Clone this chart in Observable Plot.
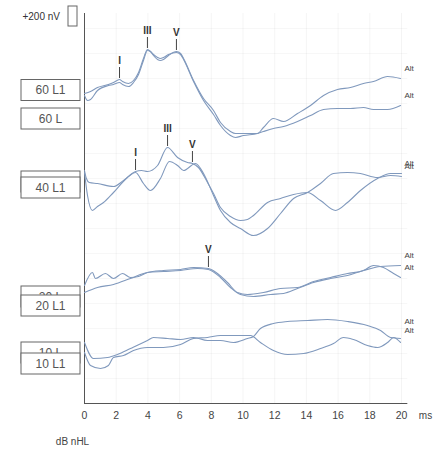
<!DOCTYPE html>
<html><head><meta charset="utf-8">
<script src="https://cdn.jsdelivr.net/npm/d3@7"></script>
<script src="https://cdn.jsdelivr.net/npm/@observablehq/plot@0.6"></script>
<style>body{margin:0;background:#fff} svg{display:block}</style>
</head><body><div id="chart"></div>
<script>
// ---- data (time in ms, amplitude in nV relative to each level's baseline) ----
const levels = ["60", "40", "20", "10"];
const levelOffsets = [3080, 2230, 1230, 580];   // baseline of each stimulus level, nV
const xTicks = [0, 2, 4, 6, 8, 10, 12, 14, 16, 18, 20];

const wave60L1 = [[0,20],[0.38,40],[0.82,80],[1.51,110],[1.83,130],[2.21,160],[2.40,140],[2.78,120],[3.09,150],[3.41,230],[3.72,370],[3.97,460],[4.16,440],[4.35,400],[4.61,360],[4.79,350],[4.98,360],[5.30,400],[5.80,440],[6.06,420],[6.25,370],[6.88,150],[7.51,-30],[8.14,-150],[8.58,-270],[9.21,-360],[9.53,-380],[10.03,-380],[10.91,-380],[11.29,-320],[11.92,-230],[12.56,-260],[13.44,-180],[14.26,-100],[15.08,0],[15.96,60],[16.78,80],[17.60,120],[18.23,140],[19.12,190],[19.94,170]];
const wave60L  = [[0,0],[0.19,-50],[0.38,-40],[0.82,50],[1.51,100],[1.83,110],[2.21,130],[2.40,110],[2.78,90],[3.09,130],[3.41,210],[3.72,350],[3.97,450],[4.16,440],[4.35,410],[4.61,380],[4.79,370],[4.98,380],[5.30,410],[5.80,430],[6.06,410],[6.25,360],[6.88,140],[7.51,-50],[8.14,-190],[8.58,-300],[9.21,-400],[9.53,-420],[10.03,-400],[10.91,-380],[11.29,-360],[11.92,-330],[12.56,-310],[13.44,-260],[14.26,-200],[15.08,-140],[15.96,-130],[16.78,-130],[17.60,-120],[18.23,-140],[19.12,-140],[19.94,-100]];
const wave40L1 = [[0,100],[0.12,20],[0.3,-20],[0.82,-30],[1.83,-60],[2.46,0],[3.22,90],[3.60,100],[3.97,90],[4.61,150],[5.24,330],[5.87,230],[6.50,180],[6.81,170],[7.19,130],[7.76,-20],[8.14,-130],[8.58,-270],[9.21,-360],[9.84,-400],[10.28,-390],[10.66,-350],[11.55,-220],[12.37,-180],[13.19,-140],[14.07,-120],[14.89,-200],[15.84,-300],[16.59,-220],[17.41,-100],[18.49,20],[19.31,70],[20,70]];
const wave40L  = [[0,80],[0.19,-150],[0.5,-300],[0.82,-260],[1.20,-220],[1.83,-120],[2.71,30],[3.22,80],[3.72,-30],[4.16,-100],[4.79,20],[5.36,190],[5.87,150],[6.25,100],[7.0,170],[7.51,70],[8.14,-150],[8.58,-300],[9.21,-420],[9.84,-480],[10.66,-550],[11.55,-480],[12.37,-330],[13.19,-180],[14.07,-120],[14.89,-30],[15.71,70],[16.59,80],[17.41,70],[18.49,30],[19.31,50],[20,40]];
const wave20L1 = [[0,-50],[0.5,80],[0.69,20],[1.32,70],[1.83,20],[2.40,70],[2.90,30],[3.41,40],[3.97,80],[4.98,100],[6.06,110],[6.88,130],[7.82,120],[8.39,70],[9.02,-20],[9.65,-120],[10.28,-140],[11.29,-120],[12.37,-80],[13.44,-70],[14.45,-10],[15.52,30],[16.59,70],[17.60,100],[18.23,150],[18.86,130],[19.50,70],[19.94,30]];
const wave20L  = [[0,-120],[0.82,-70],[1.83,-40],[2.90,20],[3.97,80],[4.98,90],[6.06,100],[7.13,120],[7.82,110],[8.58,30],[9.21,-70],[9.84,-140],[10.66,-160],[11.74,-140],[12.56,-130],[13.44,-80],[14.45,-20],[15.52,20],[16.59,50],[17.60,100],[18.68,140],[19.94,150]];
const wave10L1 = [[0,30],[0.57,-130],[1.45,-120],[2.08,-90],[2.90,-30],[3.97,50],[4.35,80],[5.24,70],[6.06,60],[6.88,80],[7.76,50],[8.58,50],[9.40,30],[10.28,70],[10.66,90],[11.10,170],[11.92,220],[12.81,240],[14.07,250],[15.33,260],[16.59,240],[17.85,200],[18.68,150],[19.31,80],[19.94,70]];
const wave10L  = [[0,-70],[0.38,-200],[1.01,-230],[1.51,-200],[1.83,-120],[2.46,-100],[3.09,-50],[3.97,-20],[4.98,-20],[6.06,10],[6.88,70],[7.76,80],[8.58,100],[9.65,100],[10.47,100],[11.10,30],[11.92,-50],[12.81,-90],[13.82,-80],[14.89,-30],[15.71,20],[16.34,80],[16.97,60],[17.85,0],[18.49,-20],[19.12,30],[19.50,80],[19.94,30]];

// peak markers: level index, wave name, latency (ms), amplitude (nV)
const peakLevel = [0, 0, 0, 1, 1, 1, 2];
const peakName  = ["I", "III", "V", "I", "III", "V", "V"];
const peakTime  = [2.21, 3.97, 5.80, 3.22, 5.24, 6.81, 7.82];
const peakAmp   = [160, 460, 440, 90, 330, 170, 120];

// recording labels on the left (level index, text, shift from baseline in nV)
const boxLevel = [0, 0, 1, 1, 2, 2, 3, 3];
const boxText  = ["60 L1", "60 L", "40 L", "40 L1", "20 L", "20 L1", "10 L", "10 L1"];
const boxShift = [50, -235, -15, -75, -165, -255, -75, -185];

// ---- build tables ----
const traces = [
  {id: "60 L1", level: 0, pts: wave60L1, dy: -10}, {id: "60 L", level: 0, pts: wave60L, dy: -10},
  {id: "40 L1", level: 1, pts: wave40L1, dy: -10}, {id: "40 L", level: 1, pts: wave40L, dy: -10},
  {id: "20 L1", level: 2, pts: wave20L1, dy: -10}, {id: "20 L", level: 2, pts: wave20L, dy: -10},
  {id: "10 L1", level: 3, pts: wave10L1, dy: -17}, {id: "10 L", level: 3, pts: wave10L, dy: -12}
];
const rows = traces.flatMap(tr => tr.pts.map(([t, a]) => ({id: tr.id, t, v: a + levelOffsets[tr.level]})));
const peaks = peakName.map((n, i) => ({name: n, t: peakTime[i], v: peakAmp[i] + levelOffsets[peakLevel[i]]}));

const ink = "#555";
const traceColor = "#8099bd";

const altMarks = traces.map(tr => {
  const p = tr.pts[tr.pts.length - 1];
  return Plot.text([{t: 20, v: p[1] + levelOffsets[tr.level]}],
    {x: "t", y: "v", text: () => "Alt", dx: 3, dy: tr.dy, textAnchor: "start", fontSize: 8, fill: "#444"});
});

const chart = Plot.plot({
  width: 434, height: 456,
  marginLeft: 84, marginRight: 33, marginTop: 5, marginBottom: 53,
  style: {fontFamily: "'Liberation Sans', Arial, sans-serif", fontSize: "10.5px", color: "#444", background: "#fff"},
  x: {domain: [0, 20], ticks: xTicks, tickSize: 0, tickPadding: 8, label: null},
  y: {domain: [0, 3980], axis: null},
  marks: [
    Plot.ruleX(xTicks, {stroke: "#000", strokeOpacity: 0.045, y1: 0, y2: 3900}),
    Plot.ruleY(d3.range(250, 3900, 250), {stroke: "#000", strokeOpacity: 0.03, x1: 0, x2: 20.4}),
    Plot.ruleX([0], {y1: 0, y2: 3900, stroke: ink, strokeWidth: 1}),
    Plot.ruleY([0], {x1: 0, x2: 20.4, stroke: ink, strokeWidth: 1}),
    Plot.line(rows, {x: "t", y: "v", z: "id", stroke: traceColor, strokeWidth: 1.1, curve: "monotone-x"}),
    Plot.ruleX(peaks, {x: "t", y1: d => d.v + 10, y2: d => d.v + 120, stroke: "#444", strokeWidth: 1}),
    Plot.text(peaks, {x: "t", y: "v", text: "name", dy: -19, fontSize: 10, fill: "#333", fontWeight: "bold"}),
    ...altMarks,
    Plot.text(["ms"], {x: 20, y: 0, dx: 24, dy: 12, fontSize: 10, fill: "#444"}),
    Plot.text(["dB nHL"], {x: 0, y: 0, dx: -12, dy: 38, fontSize: 10, fill: "#444"})
  ]
});

// left-side recording labels and the 200 nV calibration bar, placed through the chart's scales
const sx = chart.scale("x"), sy = chart.scale("y");
const svg = d3.select(chart.tagName === "svg" ? chart : chart.querySelector("svg"));
const g = svg.append("g").attr("font-family", "'Liberation Sans', Arial, sans-serif");
const ax = sx.apply(0);
boxText.forEach((txt, i) => {
  const cy = sy.apply(levelOffsets[boxLevel[i]] + boxShift[i]);
  g.append("rect").attr("x", ax - 63).attr("y", cy - 10.5).attr("width", 59).attr("height", 21)
    .attr("fill", "#fff").attr("stroke", "#666").attr("stroke-width", 1);
  g.append("text").attr("x", ax - 33.5).attr("y", cy).attr("dy", "0.36em").attr("text-anchor", "middle")
    .attr("font-size", 12).attr("fill", "#555").text(txt);
});
const barTop = sy.apply(3970), barBot = sy.apply(3770);
g.append("rect").attr("x", ax - 16).attr("y", barTop).attr("width", 9).attr("height", barBot - barTop)
  .attr("fill", "none").attr("stroke", "#666");
g.append("text").attr("x", ax - 24).attr("y", (barTop + barBot) / 2).attr("dy", "0.36em")
  .attr("text-anchor", "end").attr("font-size", 10).attr("fill", "#333").text("+200 nV");

document.getElementById("chart").appendChild(chart);
</script>
</body></html>
